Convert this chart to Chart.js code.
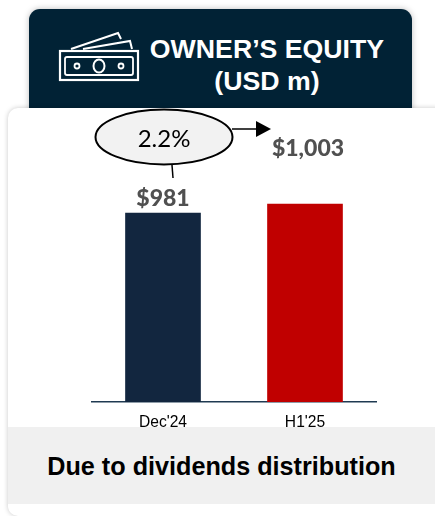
<!DOCTYPE html>
<html lang="en">
<head>
    <meta charset="UTF-8">
    <title>Owner's Equity</title>
    <script src="https://cdn.jsdelivr.net/npm/chart.js"></script>
    <style>
        html, body { margin: 0; padding: 0; background: #fff; }
        #page { position: relative; width: 435px; height: 516px; overflow: hidden; font-family: "Liberation Sans", Arial, sans-serif; }
        #header { position: absolute; left: 29px; top: 9px; width: 383px; height: 110px; background: #012235; border-radius: 11px; box-shadow: 0 0 6px rgba(0,0,0,.25); }
        #card { position: absolute; left: 8px; top: 108px; width: 440px; height: 408px; background: #fff; border-radius: 10px; box-shadow: 0 0 5px rgba(0,0,0,.22); }
        #title { position: absolute; left: 140px; top: 33px; width: 254px; color: #fff; font-weight: bold; font-size: 26.7px; line-height: 32px; text-align: center; white-space: nowrap; }
        #note { position: absolute; left: 8px; top: 427px; width: 427px; height: 77px; background: #f0f0f0; color: #000; font-weight: bold; font-size: 25.2px; line-height: 78px; text-align: center; }
        canvas { position: absolute; left: 0; top: 0; }
        svg { position: absolute; left: 0; top: 0; }
    </style>
</head>
<body>
    <div id="page">
        <div id="header"></div>
        <!-- Money icon -->
        <svg width="435" height="110" fill="none" stroke="#fff">
            <polyline points="71,49 118,33 121,39" stroke-width="2"/>
            <polyline points="83,49 130,41 132,49" stroke-width="2"/>
            <rect x="60" y="51" width="78" height="29" stroke-width="2.2"/>
            <rect x="65" y="57" width="68" height="18" rx="2" stroke-width="1.8"/>
            <ellipse cx="99" cy="66" rx="5.5" ry="6.5" stroke-width="2"/>
            <circle cx="77" cy="66" r="2.5" stroke-width="1.8"/>
            <circle cx="121" cy="66" r="2.5" stroke-width="1.8"/>
        </svg>
        <div id="title">OWNER&#8217;S EQUITY<br>(USD m)</div>
        <div id="card"></div>
        <canvas id="equityChart" width="435" height="516"></canvas>
        <div id="note">Due to dividends distribution</div>
        <!-- Growth bubble and arrow -->
        <svg width="435" height="200" fill="none">
            <line x1="172" y1="165" x2="173" y2="178" stroke="#000" stroke-width="1.5"/>
            <line x1="232" y1="129" x2="258" y2="129" stroke="#000" stroke-width="1.5"/>
            <polygon points="256,121 271,129 256,137" fill="#000"/>
            <ellipse cx="164" cy="137" rx="68.5" ry="27.5" fill="#f2f2f2" stroke="#000" stroke-width="2"/>
            <text x="164" y="147" text-anchor="middle" fill="#000" font-family="Lato" font-size="24">2.2%</text>
        </svg>
    </div>

    <script>
        const categories = ["Dec'24", "H1'25"];
        const equityValues = [981, 1003];
        const valueLabels = ['$981', '$1,003'];
        const barColors = ['#12263f', '#c00000'];

        // Prints the value above each bar
        const valueLabelPlugin = {
            id: 'valueLabels',
            afterDatasetsDraw(chart) {
                const ctx = chart.ctx;
                const offsets = [7, 48];
                ctx.save();
                ctx.font = '900 23px Lato';
                ctx.fillStyle = '#505050';
                ctx.textAlign = 'center';
                ctx.textBaseline = 'alphabetic';
                chart.getDatasetMeta(0).data.forEach((bar, i) => {
                    ctx.fillText(valueLabels[i], bar.x + (i === 0 ? 0 : 3), bar.y - offsets[i]);
                });
                ctx.restore();
            }
        };

        new Chart(document.getElementById('equityChart').getContext('2d'), {
            type: 'bar',
            data: {
                labels: categories,
                datasets: [{
                    data: equityValues,
                    backgroundColor: barColors,
                    barThickness: 75
                }]
            },
            options: {
                responsive: false,
                animation: false,
                layout: { padding: { left: 92, right: 59, top: 111, bottom: 0 } },
                plugins: { legend: { display: false }, tooltip: { enabled: false } },
                scales: {
                    y: { display: false, min: 516, max: 1232 },
                    x: {
                        afterFit(scale) { scale.height = 114; },
                        grid: { display: false, drawTicks: false },
                        border: { color: '#1f3a52', width: 1.5 },
                        ticks: { color: '#000', padding: 11, font: { family: 'Liberation Sans', size: 15.6 } }
                    }
                }
            },
            plugins: [valueLabelPlugin]
        });
    </script>
</body>
</html>
